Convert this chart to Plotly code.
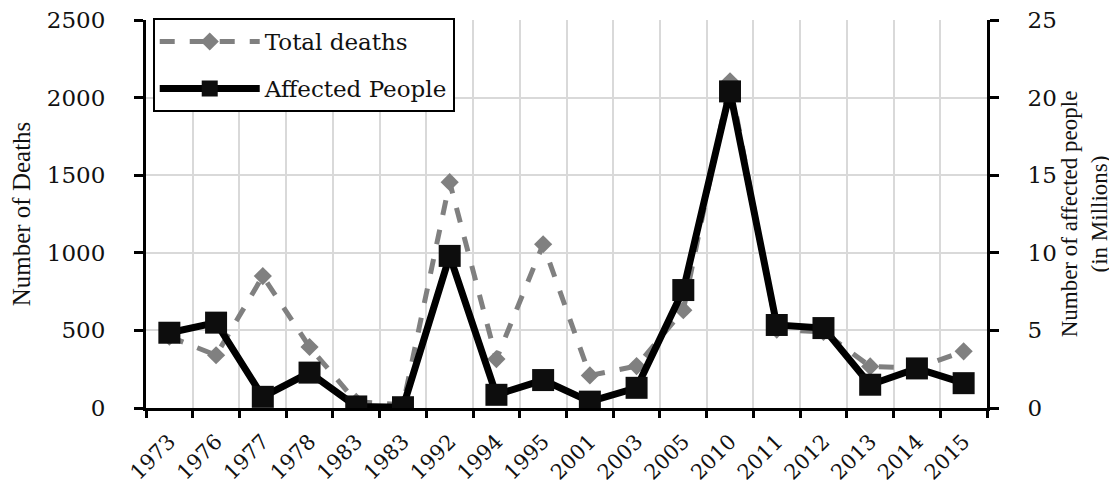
import plotly.graph_objects as go

years = ["1973", "1976", "1977", "1978", "1983", "1983", "1992", "1994", "1995",
         "2001", "2003", "2005", "2010", "2011", "2012", "2013", "2014", "2015"]
total_deaths = [460, 340, 850, 393, 40, 20, 1455, 315, 1055,
                210, 270, 630, 2105, 505, 490, 268, 258, 365]
affected_millions = [4.85, 5.5, 0.72, 2.28, 0.1, 0.05, 9.8, 0.85, 1.8,
                     0.41, 1.3, 7.6, 20.4, 5.35, 5.15, 1.5, 2.55, 1.6]

idx = list(range(len(years)))

serif_tick = "DejaVu Serif"
serif_title = "Liberation Serif"

fig = go.Figure()
fig.add_trace(go.Scatter(
    x=idx, y=total_deaths, name="Total deaths", mode="lines+markers",
    legendgroup="a",
    line=dict(color="#808080", width=5, dash="dash"),
    marker=dict(symbol="diamond", size=14, color="#808080"),
    yaxis="y"))
fig.add_trace(go.Scatter(
    x=idx, y=affected_millions, name="Affected People", mode="lines+markers",
    legendgroup="b",
    line=dict(color="#000000", width=7),
    marker=dict(symbol="square", size=22, color="#0d0d0d"),
    yaxis="y2"))

fig.update_layout(
    width=1109, height=476,
    margin=dict(l=138, r=130, t=12, b=76, autoexpand=False),
    paper_bgcolor="white", plot_bgcolor="white",
    showlegend=True,
    legend=dict(x=0.008, y=1.005, xanchor="left", yanchor="top",
                bordercolor="black", borderwidth=2, bgcolor="white",
                font=dict(family=serif_tick, size=23, color="#111"),
                itemwidth=100, tracegroupgap=14),
    xaxis=dict(
        range=[-0.5, len(years) - 0.5], automargin=False,
        tickmode="array", tickvals=idx, ticktext=years,
        tickangle=-45, ticks="", showgrid=False,
        tickfont=dict(family=serif_tick, size=21, color="#111"),
        ticklabelstandoff=10, ticklabeloverflow="allow",
        showline=True, linecolor="black", linewidth=3,
        zeroline=False,
        minor=dict(tickmode="linear", tick0=0.5, dtick=1, ticks="outside",
                   ticklen=7, tickwidth=3, tickcolor="black",
                   showgrid=True, gridcolor="#d9d9d9", gridwidth=1.5),
    ),
    yaxis=dict(
        range=[0, 2500], dtick=500, ticks="outside", ticklen=9, tickwidth=3,
        automargin=False, ticklabeloverflow="allow",
        tickcolor="black", showline=True, linecolor="black", linewidth=3,
        showgrid=True, gridcolor="#d9d9d9", gridwidth=1.5, zeroline=False,
        tickfont=dict(family=serif_tick, size=23, color="#111"),
        ticklabelstandoff=24,
        title=dict(text="Number of Deaths", standoff=16,
                   font=dict(family=serif_title, size=25, color="#111")),
    ),
    yaxis2=dict(
        range=[0, 25], dtick=5, overlaying="y", side="right",
        automargin=False, ticklabeloverflow="allow",
        ticks="outside", ticklen=9, tickwidth=3, tickcolor="black",
        showline=True, linecolor="black", linewidth=3,
        showgrid=False, zeroline=False,
        tickfont=dict(family=serif_tick, size=23, color="#111"),
        ticklabelstandoff=24,
        title=dict(text="Number of affected people<br>(in Millions)", standoff=0,
                   font=dict(family=serif_title, size=23, color="#111")),
    ),
)

fig.write_html("out.html")
